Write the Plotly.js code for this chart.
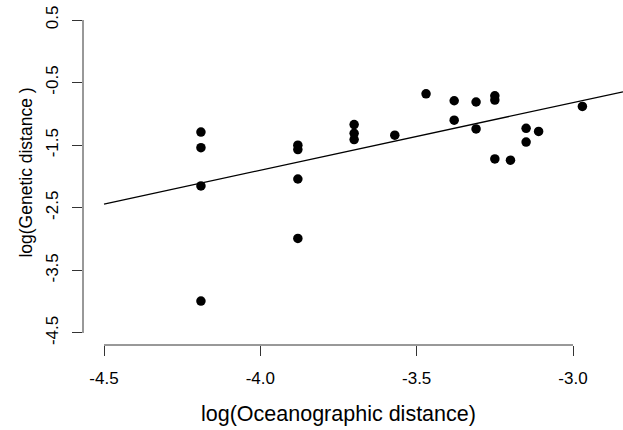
<!DOCTYPE html>
<html>
<head>
<meta charset="utf-8">
<script src="https://cdn.plot.ly/plotly-3.0.1.min.js"></script>
<style>html,body{margin:0;padding:0;background:#fff;}#chart{width:623px;height:430px;}</style>
</head>
<body>
<div id="chart"></div>
<script>
// log(Oceanographic distance)
const oceanDist = [
  -4.19, -4.19, -4.19, -4.19,
  -3.88, -3.88, -3.88, -3.88,
  -3.70, -3.70, -3.70,
  -3.57,
  -3.47,
  -3.38, -3.38,
  -3.31, -3.31,
  -3.25, -3.25, -3.25,
  -3.20,
  -3.15, -3.15,
  -3.11,
  -2.97
];
// log(Genetic distance)
const geneticDist = [
  -1.29, -1.54, -2.15, -3.99,
  -1.50, -1.57, -2.04, -2.99,
  -1.17, -1.31, -1.41,
  -1.34,
  -0.68,
  -0.79, -1.10,
  -0.81, -1.24,
  -0.71, -0.78, -1.72,
  -1.74,
  -1.23, -1.45,
  -1.28,
  -0.88
];
// fitted regression line: y = intercept + slope * x
const intercept = 2.42;
const slope = 1.08;
const xTicks = [-4.5, -4.0, -3.5, -3.0];
const yTicks = [-4.5, -3.5, -2.5, -1.5, -0.5, 0.5];
const xTickText = xTicks.map(v => v.toFixed(1));
const yTickText = yTicks.map(v => v.toFixed(1));

const xRange = [-4.5672, -2.8401];
const yRange = [-4.692, 0.8195];
const lineX = [xTicks[0], xRange[1]];
const lineY = lineX.map(v => intercept + slope * v);

const font = "Liberation Sans, Arial, Helvetica, sans-serif";

const traces = [
  {
    x: lineX, y: lineY, type: 'scatter', mode: 'lines',
    line: {color: '#000', width: 1.3}, hoverinfo: 'skip', showlegend: false
  },
  {
    x: oceanDist, y: geneticDist, type: 'scatter', mode: 'markers',
    marker: {color: '#000', size: 9.5, line: {width: 0}}, showlegend: false
  }
];

const layout = {
  width: 623, height: 430,
  margin: {l: 83, r: 0, t: 0, b: 85, pad: 0},
  paper_bgcolor: '#fff', plot_bgcolor: '#fff',
  font: {family: font, color: '#000'},
  xaxis: {
    range: xRange, showgrid: false, zeroline: false, showline: false,
    tickvals: xTicks, ticktext: xTickText, ticks: 'outside', ticklen: 10,
    tickcolor: '#333', tickwidth: 1, ticklabelstandoff: 8,
    tickfont: {size: 17, family: font, color: '#000'},
    automargin: false
  },
  yaxis: {
    range: yRange, showgrid: false, zeroline: false, showline: false,
    tickvals: yTicks, ticktext: yTickText, ticks: 'outside', ticklen: 10,
    tickcolor: '#333', tickwidth: 1, tickangle: -90, ticklabelstandoff: 7,
    tickfont: {size: 17, family: font, color: '#000'},
    title: {text: 'log(Genetic distance )', font: {size: 17.5, family: font, color: '#000'}, standoff: 6},
    automargin: false
  },
  annotations: [
    {text: 'log(Oceanographic distance)', xref: 'x', yref: 'paper',
     x: (xTicks[0] + xTicks[xTicks.length - 1]) / 2, y: 0, yshift: -69,
     xanchor: 'center', yanchor: 'middle', showarrow: false,
     font: {size: 21.5, family: font, color: '#000'}}
  ],
  shapes: [
    {type: 'line', xref: 'x', yref: 'paper', x0: xTicks[0], x1: xTicks[xTicks.length - 1], y0: 0, y1: 0,
     line: {color: '#333', width: 1}},
    {type: 'line', xref: 'paper', yref: 'y', x0: 0, x1: 0, y0: yTicks[0], y1: yTicks[yTicks.length - 1],
     line: {color: '#333', width: 1}}
  ]
};

Plotly.newPlot('chart', traces, layout, {displayModeBar: false, staticPlot: true});
</script>
</body>
</html>
